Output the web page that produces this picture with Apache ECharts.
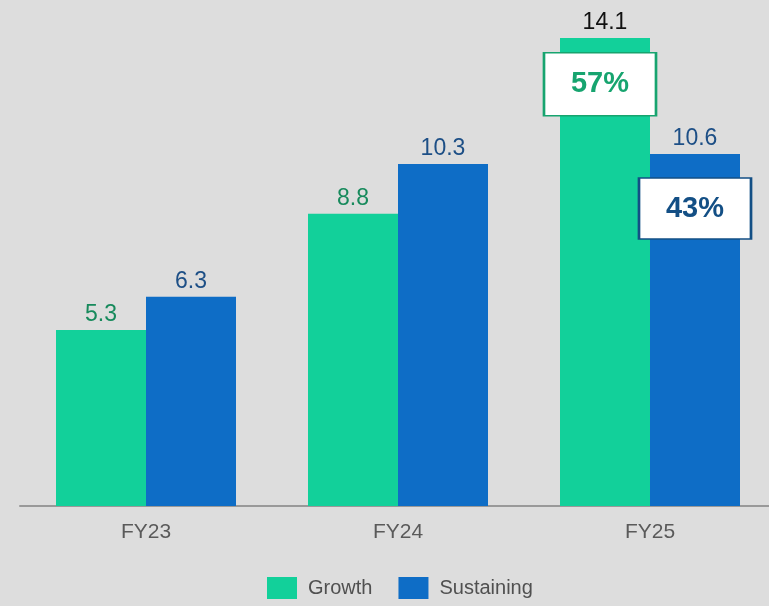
<!DOCTYPE html>
<html>
<head>
<meta charset="utf-8">
<script src="https://cdn.jsdelivr.net/npm/echarts@6/dist/echarts.min.js"></script>
<style>
html, body { margin: 0; padding: 0; background: #dddddd; }
#container { width: 769px; height: 606px; }
</style>
</head>
<body>
<div id="container"></div>
<script>
var categories = ['FY23', 'FY24', 'FY25'];
var growth = [5.3, 8.8, 14.1];
var sustaining = [6.3, 10.3, 10.6];
var shareLabels = ['57%', '43%'];
var shareAt = [12.7, 8.96];

var dom = document.getElementById('container');
var myChart = echarts.init(dom);

var font = 'Liberation Sans';

option = {
    backgroundColor: '#dddddd',
    animation: false,
    textStyle: { fontFamily: font },
    grid: { left: 20, width: 756, top: 8, bottom: 100, containLabel: false, outerBoundsMode: 'none' },
    legend: {
        bottom: 2,
        left: 262,
        itemWidth: 30,
        itemHeight: 22,
        itemGap: 26,
        icon: 'rect',
        textStyle: { fontSize: 20, color: '#505050', fontFamily: font, padding: [0, 0, 0, 6] },
        data: ['Growth', 'Sustaining']
    },
    xAxis: {
        type: 'category',
        data: categories,
        axisLine: { lineStyle: { color: '#999999', width: 2 } },
        axisTick: { show: false },
        axisLabel: { fontSize: 21, color: '#5a5a5a', margin: 16, fontFamily: font }
    },
    yAxis: {
        type: 'value',
        min: 0,
        max: 15,
        show: false,
        splitLine: { show: false }
    },
    series: [
        {
            name: 'Growth',
            type: 'bar',
            barWidth: 90,
            barGap: '0%',
            itemStyle: { color: '#12d09a' },
            label: {
                show: true,
                position: 'top',
                distance: 4,
                fontSize: 23,
                color: '#178a5c',
                fontFamily: font
            },
            data: growth.map(function (v, i) {
                return i === 2 ? { value: v, label: { color: '#111111' } } : v;
            }),
            markPoint: {
                symbol: 'rect',
                symbolSize: [112, 63],
                symbolOffset: [-5, 0],
                itemStyle: { color: '#ffffff', borderColor: '#17a46f', borderWidth: 2 },
                label: {
                    show: true,
                    position: 'inside',
                    formatter: shareLabels[0],
                    fontSize: 29,
                    fontWeight: 'bold',
                    color: '#17a46f',
                    fontFamily: font
                },
                data: [{ coord: [categories[2], shareAt[0]] }]
            }
        },
        {
            name: 'Sustaining',
            type: 'bar',
            barWidth: 90,
            itemStyle: { color: '#0e6dc6' },
            label: {
                show: true,
                position: 'top',
                distance: 4,
                fontSize: 23,
                color: '#1d4f86',
                fontFamily: font
            },
            data: sustaining,
            markPoint: {
                symbol: 'rect',
                symbolSize: [112, 61],
                itemStyle: { color: '#ffffff', borderColor: '#134f85', borderWidth: 2 },
                label: {
                    show: true,
                    position: 'inside',
                    formatter: shareLabels[1],
                    fontSize: 29,
                    fontWeight: 'bold',
                    color: '#134f85',
                    fontFamily: font
                },
                data: [{ coord: [categories[2], shareAt[1]] }]
            }
        }
    ]
};
myChart.setOption(option, true);
</script>
</body>
</html>
